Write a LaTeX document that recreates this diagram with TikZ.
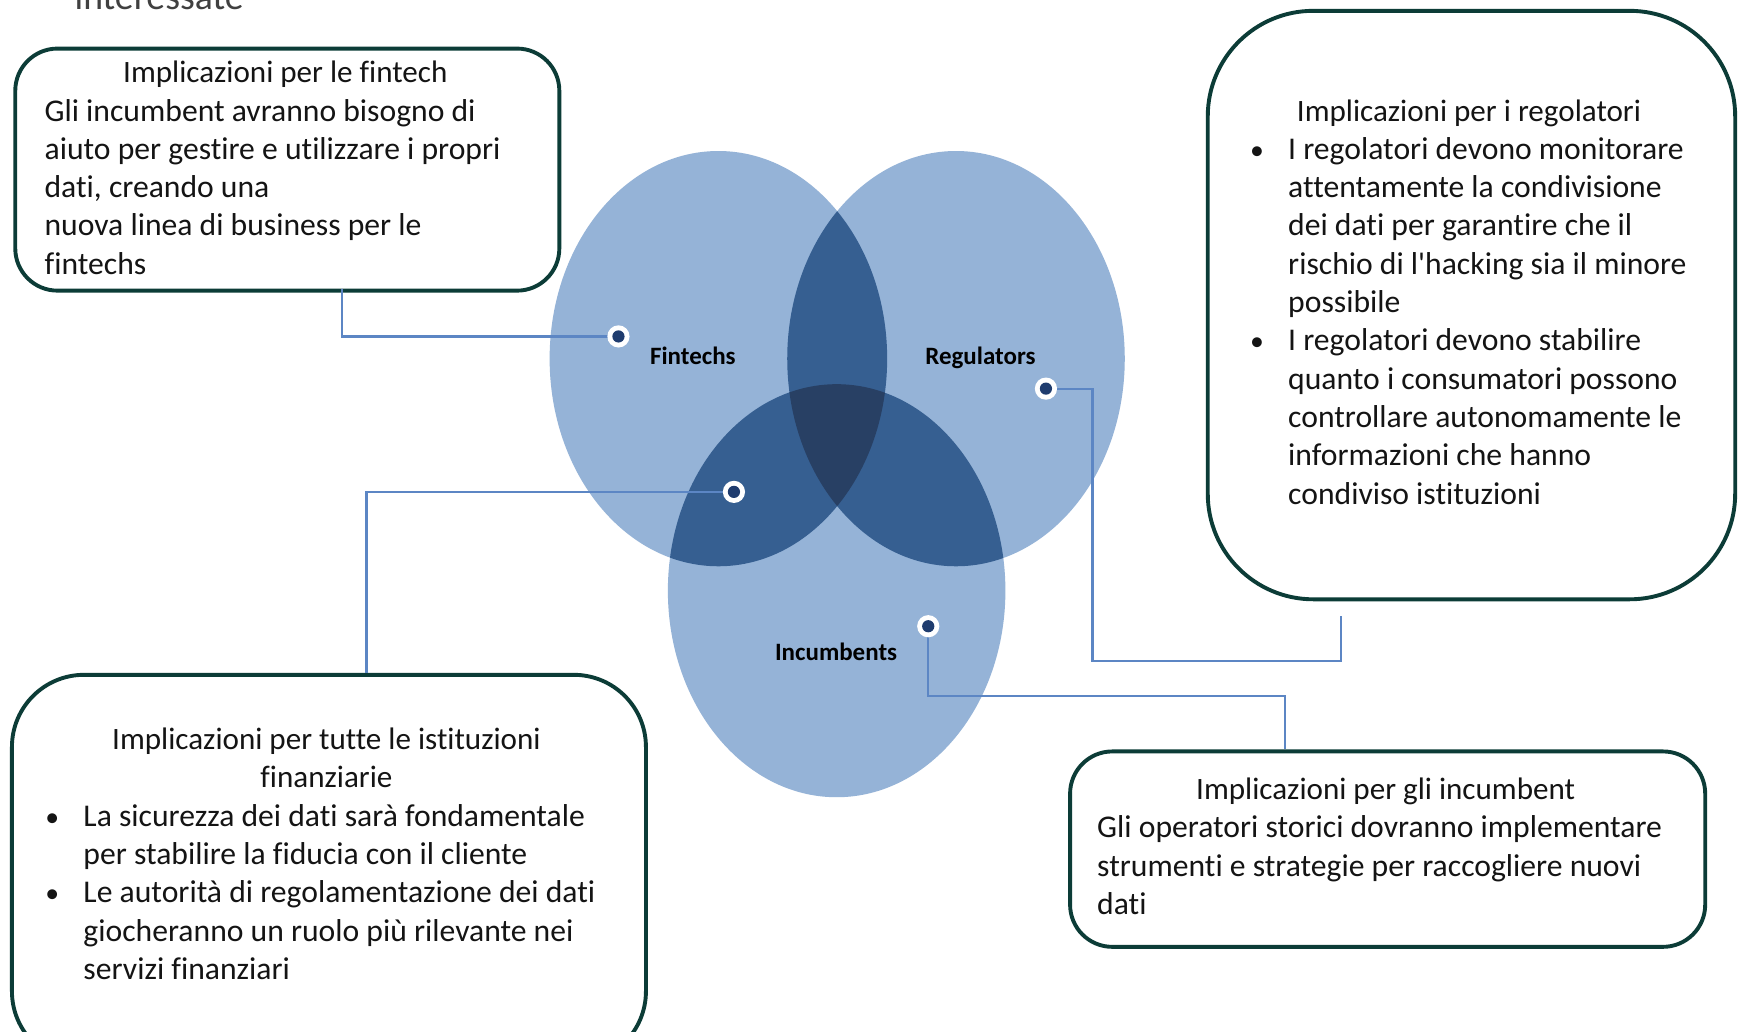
\documentclass[tikz,border=0pt]{standalone}
\usepackage{fontspec}
\setmainfont{Carlito}
\newfontfamily\bodyfont[Ligatures=NoCommon]{Carlito}
\definecolor{boxline}{RGB}{12,60,55}
\definecolor{txtcol}{RGB}{20,20,20}
\definecolor{conncol}{RGB}{92,134,196}
\definecolor{vlight}{RGB}{149,179,215}
\definecolor{vmid}{RGB}{54,95,145}
\definecolor{vdark}{RGB}{40,64,100}
\definecolor{dotin}{RGB}{31,60,110}
\definecolor{topgray}{RGB}{64,64,64}
\tikzset{
  box/.style={draw=boxline, line width=3.5pt, rounded corners=#1, fill=white},
  body/.style={text=txtcol, inner sep=0pt, align=left, font=\bodyfont\fontsize{28.5}{34.5}\selectfont},
  headtxt/.style={text=txtcol, inner sep=0pt, align=center, font=\bodyfont\fontsize{28}{34.5}\selectfont},
  bul/.style={text=txtcol, inner sep=0pt, font=\bodyfont\fontsize{25}{34.5}\selectfont},
  vlabel/.style={text=black, inner sep=0pt, font=\bodyfont\bfseries\fontsize{22.5}{26}\selectfont},
  conn/.style={draw=conncol, line width=2pt},
  dotmark/.style={circle, fill=white, minimum size=20pt, inner sep=0pt,
    path picture={\fill[dotin] (path picture bounding box.center) circle (5.5pt);}}
}
\begin{document}
\begin{tikzpicture}[x=1pt,y=-1pt]
\useasboundingbox (0,0) rectangle (1568,929.4);
\clip (0,0) rectangle (1568,929.4);
\fill[white] (0,0) rectangle (1568,929.4);

% partial title at top
\node[anchor=base west, inner sep=0pt, text=topgray, font=\bodyfont\fontsize{34}{40}\selectfont] (toptitle) at (67,9) {interessate};

% Venn diagram
\def\F{(647,323) ellipse [x radius=152pt, y radius=187pt]}
\def\R{(861,323) ellipse [x radius=152pt, y radius=187pt]}
\def\I{(753.5,532) ellipse [x radius=152pt, y radius=186pt]}
\fill[vlight] \F;
\fill[vlight] \R;
\fill[vlight] \I;
\begin{scope}\clip \F; \fill[vmid] \R; \fill[vmid] \I;\end{scope}
\begin{scope}\clip \R; \fill[vmid] \I;\end{scope}
\begin{scope}\clip \F; \clip \R; \fill[vdark] \I;\end{scope}

\node[vlabel, anchor=base] (lF) at (624,328) {Fintechs};
\node[vlabel, anchor=base] (lR) at (883,328) {Regulators};
\node[vlabel, anchor=base] (lI) at (753,595) {Incumbents};

% boxes
\node[box=38pt, anchor=north west, minimum width=490pt, minimum height=218pt] (fbox) at (12,42) {};
\node[box=95pt, anchor=north west, minimum width=475pt, minimum height=530pt] (rbox) at (1086,8) {};
\node[box=65pt, anchor=north west, minimum width=571pt, minimum height=350pt] (abox) at (9,606) {};
\node[box=38pt, anchor=north west, minimum width=572pt, minimum height=176pt] (ibox) at (962,675) {};

% connector points
\coordinate (pF) at (557,303);
\coordinate (pFI) at (661,443);
\coordinate (pR) at (942,350);
\coordinate (pI) at (836,564);
\coordinate (fAttach) at (308,260);
\coordinate (aAttach) at (330,606);
\coordinate (rTurn) at (984,595);
\coordinate (rEnd) at (1208,555);
\coordinate (iTurn) at (1157,627);
\coordinate (iAttach) at (1157,675);

\draw[conn] (fAttach) |- (pF);
\draw[conn] (pFI) -| (aAttach);
\draw[conn] (pR) -| (rTurn) -| (rEnd);
\draw[conn] (pI) |- (iTurn) -- (iAttach);

\node[dotmark] (dF) at (pF) {};
\node[dotmark] (dFI) at (pFI) {};
\node[dotmark] (dR) at (pR) {};
\node[dotmark] (dI) at (pI) {};

% fintech box text (multi-line nodes: base = last line)
\node[headtxt, anchor=base] (fhead) at (257,74) {Implicazioni per le fintech};
\node[body, anchor=base west] (ftext) at (40,247) {Gli incumbent avranno bisogno di\\aiuto per gestire e utilizzare i propri\\dati, creando una\\nuova linea di business per le\\fintechs};

% regulators box text
\node[headtxt, anchor=base] (rhead) at (1323,109) {Implicazioni per i regolatori};
\node[bul, anchor=base] (rb1) at (1132,143.5) {•};
\node[bul, anchor=base] (rb2) at (1132,316) {•};
\node[body, anchor=base west] (rtext) at (1160,454) {I regolatori devono monitorare\\attentamente la condivisione\\dei dati per garantire che il\\rischio di l'hacking sia il minore\\possibile\\I regolatori devono stabilire\\quanto i consumatori possono\\controllare autonomamente le\\informazioni che hanno\\condiviso istituzioni};

% all institutions box text
\node[headtxt, anchor=base] (ahead) at (294,709.5) {Implicazioni per tutte le istituzioni\\finanziarie};
\node[bul, anchor=base] (ab1) at (47,744) {•};
\node[bul, anchor=base] (ab2) at (47,813) {•};
\node[body, anchor=base west] (atext) at (75,882) {La sicurezza dei dati sarà fondamentale\\per stabilire la fiducia con il cliente\\Le autorità di regolamentazione dei dati\\giocheranno un ruolo più rilevante nei\\servizi finanziari};

% incumbents box text
\node[headtxt, anchor=base] (ihead) at (1248,720) {Implicazioni per gli incumbent};
\node[body, anchor=base west] (itext) at (988,823.5) {Gli operatori storici dovranno implementare\\strumenti e strategie per raccogliere nuovi\\dati};
\end{tikzpicture}
\end{document}
